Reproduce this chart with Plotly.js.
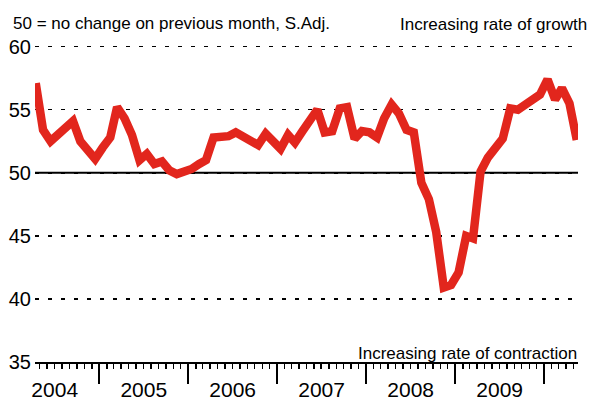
<!DOCTYPE html>
<html>
<head>
<meta charset="utf-8">
<script src="https://cdn.plot.ly/plotly-3.0.1.min.js"></script>
<style>html,body{margin:0;padding:0;background:#fff;}#chart{width:591px;height:401px;}</style>
</head>
<body>
<div id="chart"></div>
<script>
// Monthly index readings, April 2004 - May 2010
const months = [
  '2004-04','2004-05','2004-06','2004-07','2004-08','2004-09','2004-10','2004-11','2004-12',
  '2005-01','2005-02','2005-03','2005-04','2005-05','2005-06','2005-07','2005-08','2005-09','2005-10','2005-11','2005-12',
  '2006-01','2006-02','2006-03','2006-04','2006-05','2006-06','2006-07','2006-08','2006-09','2006-10','2006-11','2006-12',
  '2007-01','2007-02','2007-03','2007-04','2007-05','2007-06','2007-07','2007-08','2007-09','2007-10','2007-11','2007-12',
  '2008-01','2008-02','2008-03','2008-04','2008-05','2008-06','2008-07','2008-08','2008-09','2008-10','2008-11','2008-12',
  '2009-01','2009-02','2009-03','2009-04','2009-05','2009-06','2009-07','2009-08','2009-09','2009-10','2009-11','2009-12',
  '2010-01','2010-02','2010-03','2010-04','2010-05'
];
const indexValues = [
  57.1, 53.4, 52.5, 53.0, 53.5, 54.1, 52.5, 51.8, 51.1,
  52.0, 52.8, 55.2, 54.3, 53.0, 51.0, 51.5, 50.7, 50.9, 50.2, 49.9, 50.1,
  50.3, 50.7, 51.0, 52.8, 52.9, 52.9, 53.2, 52.8, 52.6, 52.2, 53.1, 52.5,
  51.9, 53.0, 52.4, 53.3, 54.2, 55.0, 53.2, 53.3, 55.1, 55.2, 52.7, 53.3,
  53.2, 52.8, 54.3, 55.4, 54.7, 53.4, 53.2, 49.2, 47.9, 45.3, 40.9, 41.1,
  42.1, 45.0, 44.8, 50.1, 51.2, 51.9, 52.7, 55.1, 55.0, 55.4, 55.8, 56.2,
  57.4, 55.8, 56.7, 55.5, 52.6
];
const yTicks = [35, 40, 45, 50, 55, 60];
const noChangeLevel = 50;
const noteText = '50 = no change on previous month, S.Adj.';
const growthText = 'Increasing rate of growth';
const contractionText = 'Increasing rate of contraction';

const FONT = 'Liberation Sans, Arial, Helvetica, sans-serif';

const trace = {
  x: months.map(m => m + '-15'),
  y: indexValues,
  type: 'scatter',
  mode: 'lines',
  line: {color: '#e2261d', width: 8.5},
  hoverinfo: 'skip'
};

const layout = {
  width: 591, height: 401,
  margin: {l: 35, r: 13, t: 34, b: 39},
  paper_bgcolor: '#fff', plot_bgcolor: '#fff',
  showlegend: false,
  font: {family: FONT, color: '#000'},
  xaxis: {
    type: 'date',
    range: ['2004-04-12', '2010-05-20'],
    tick0: '2004-01-01', dtick: 'M12',
    tickformat: '%Y', ticklabelmode: 'period',
    ticks: 'outside', ticklen: 20, tickwidth: 2, tickcolor: '#000',
    ticklabelstandoff: -12,
    minor: {dtick: 'M1', ticks: 'outside', ticklen: 5, tickwidth: 1.5, tickcolor: '#000', showgrid: false},
    showline: true, linecolor: '#000', linewidth: 2,
    showgrid: false, zeroline: false,
    tickfont: {family: FONT, size: 21, color: '#000'},
    fixedrange: true
  },
  yaxis: {
    range: [35, 61],
    tickvals: yTicks,
    ticktext: yTicks.map(String),
    ticks: '',
    ticklabelstandoff: 3,
    showline: false, zeroline: false,
    showgrid: true, gridcolor: '#000', gridwidth: 1.5, griddash: '4px,9px',
    tickfont: {family: FONT, size: 20, color: '#000'},
    fixedrange: true
  },
  shapes: [{
    type: 'line', xref: 'paper', x0: 0, x1: 1, yref: 'y', y0: noChangeLevel, y1: noChangeLevel,
    line: {color: '#000', width: 2}, layer: 'below'
  }],
  annotations: [
    {text: noteText, xref: 'paper', yref: 'paper', x: -0.0442, y: 1.032, xanchor: 'left', yanchor: 'middle',
     showarrow: false, font: {family: FONT, size: 17, color: '#000'}},
    {text: growthText, xref: 'paper', yref: 'paper', x: 1.021, y: 1.029, xanchor: 'right', yanchor: 'middle',
     showarrow: false, font: {family: FONT, size: 17, color: '#000'}},
    {text: contractionText, xref: 'paper', yref: 'paper', x: 1.002, y: 0.0274, xanchor: 'right', yanchor: 'middle',
     showarrow: false, font: {family: FONT, size: 17, color: '#000'}}
  ]
};

Plotly.newPlot('chart', [trace], layout, {displayModeBar: false, staticPlot: true});
</script>
</body>
</html>
